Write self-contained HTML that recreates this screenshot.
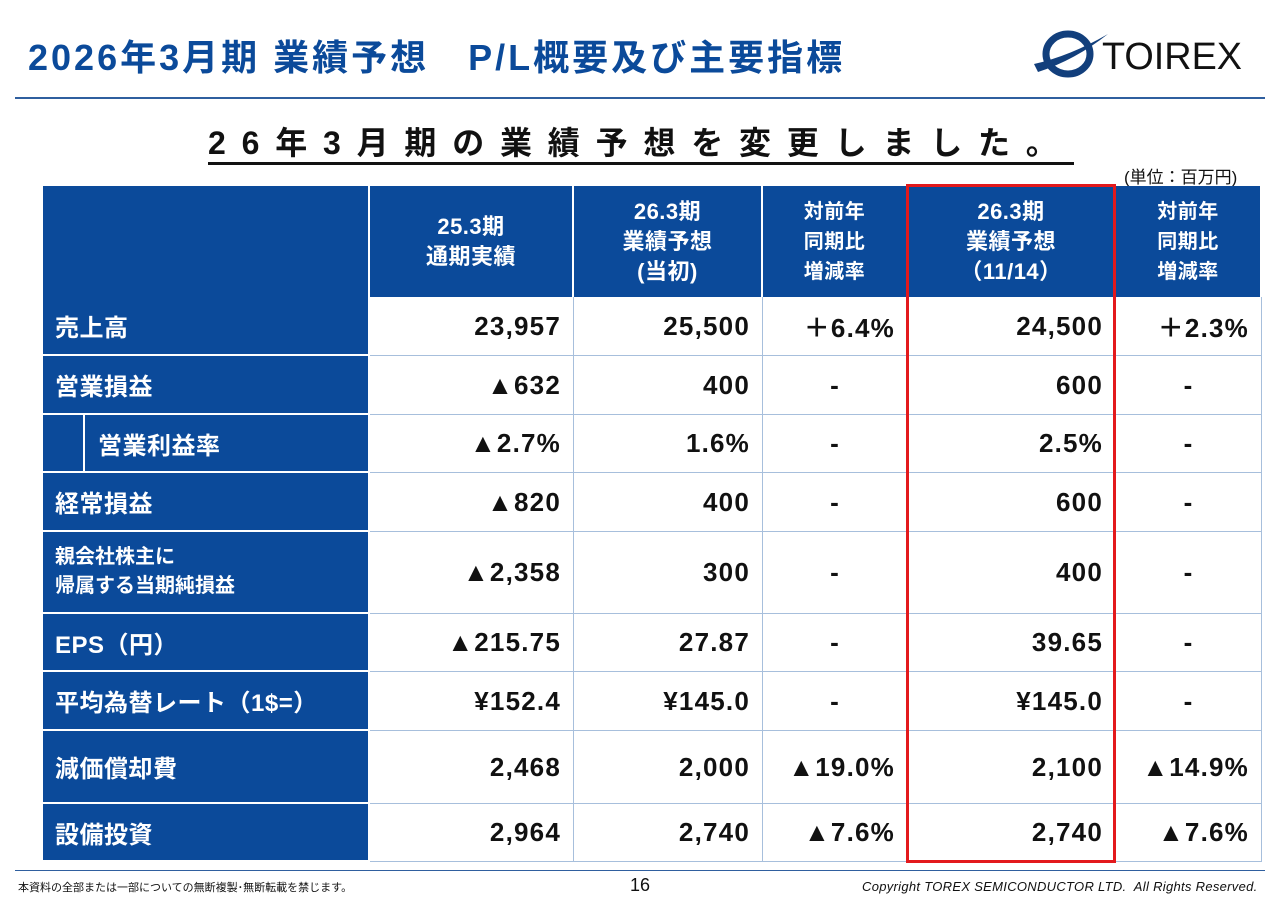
<!DOCTYPE html>
<html><head><meta charset="utf-8"><style>
body{margin:0;width:1280px;height:905px;background:#fff;position:relative;overflow:hidden;font-family:"Liberation Sans","Noto Sans CJK JP",sans-serif;}
.a{position:absolute;box-sizing:border-box;}
.c{display:flex;align-items:center;font-weight:bold;}
.h{background:#0b4a9a;color:#fff;justify-content:center;text-align:center;border-right:2px solid #fff;font-size:22px;line-height:30px;letter-spacing:0.5px;}
.l{background:#0b4a9a;color:#fff;padding-left:12px;font-size:24px;border-bottom:2px solid #fff;letter-spacing:0.5px;}
.d{background:#fff;color:#111;justify-content:flex-end;padding-right:12px;font-size:26px;letter-spacing:1.2px;border-right:1.5px solid #a7bfdc;border-bottom:1.5px solid #a7bfdc;}
</style></head><body>
<div class="a" style="left:28px;top:29px;font-size:36px;font-weight:bold;color:#0b4a9a;letter-spacing:3px;">2026年3月期 業績予想　P/L概要及び主要指標</div>
<div class="a" style="left:1030px;top:24px;width:220px;height:56px;">
<svg width="220" height="56"><ellipse cx="38" cy="30" rx="22" ry="20" fill="none" stroke="#123f7c" stroke-width="7"/><path d="M4 40 Q40 32 78 10 Q45 36 8 48Z" fill="#123f7c"/><text x="72" y="45" font-size="38" font-family="Liberation Sans" fill="#111" textLength="140" lengthAdjust="spacingAndGlyphs">TOIREX</text></svg></div>
<div class="a" style="left:15px;top:97px;width:1250px;height:2px;background:#2f5f9f;"></div>
<div class="a" style="left:208px;top:124px;font-size:32px;font-weight:bold;letter-spacing:15.8px;color:#111;border-bottom:3px solid #111;line-height:38px;">26年3月期の業績予想を変更しました。</div>
<div class="a" style="left:1124px;top:163px;font-size:17px;color:#111;">(単位：百万円)</div>
<div id="t"></div>
<div class="a" style="left:906px;top:184px;width:210px;height:679px;border:3px solid #e3191c;"></div>
<div class="a" style="left:15px;top:870px;width:1250px;height:1px;background:#2f5f9f;"></div>
<div class="a" style="left:18px;top:879px;font-size:11px;color:#111;">本資料の全部または一部についての無断複製･無断転載を禁じます。</div>
<div class="a" style="left:630px;top:875px;font-size:18px;color:#111;">16</div>
<div class="a" style="left:862px;top:879px;font-size:13px;font-style:italic;color:#111;letter-spacing:0.3px;">Copyright TOREX SEMICONDUCTOR LTD.&nbsp; All Rights Reserved.</div>
<script>
const colX=[43,370,574,763,908,1116,1262];
const rowY=[186,297,356,415,473,532,614,672,731,804,862];
const headers=["25.3期<br>通期実績","26.3期<br>業績予想<br>(当初)","対前年<br>同期比<br>増減率","26.3期<br>業績予想<br>（11/14）","対前年<br>同期比<br>増減率"];
const labels=["売上高","営業損益","営業利益率","経常損益","親会社株主に<br>帰属する当期純損益","EPS（円）","平均為替レート（1$=）","減価償却費","設備投資"];
const actual25=["23,957","▲632","▲2.7%","▲820","▲2,358","▲215.75","¥152.4","2,468","2,964"];
const initial26=["25,500","400","1.6%","400","300","27.87","¥145.0","2,000","2,740"];
const yoy1=["+6.4%","-","-","-","-","-","-","▲19.0%","▲7.6%"];
const revised26=["24,500","600","2.5%","600","400","39.65","¥145.0","2,100","2,740"];
const yoy2=["+2.3%","-","-","-","-","-","-","▲14.9%","▲7.6%"];
const t=document.getElementById('t');
function cell(cls,x,y,w,h,html){const d=document.createElement('div');d.className='a c '+cls;d.style.cssText=`left:${x}px;top:${y}px;width:${w}px;height:${h}px;`;d.innerHTML=html;t.appendChild(d);return d;}
let e=cell('h',colX[0],rowY[0],colX[1]-colX[0],rowY[1]-rowY[0],'');


headers.forEach((h,i)=>{const c=cell('h',colX[i+1],rowY[0],colX[i+2]-colX[i+1],rowY[1]-rowY[0],h);


if(i==2||i==4)c.style.fontSize='20px';});
const cols=[actual25,initial26,yoy1,revised26,yoy2];
labels.forEach((lb,r)=>{const y=rowY[r+1],h=rowY[r+2]-y;
const L=cell('l',colX[0],y,colX[1]-colX[0],h,lb);


L.style.borderRight='2px solid #fff';
if(r==2){L.style.paddingLeft='55px';const s=document.createElement('div');s.className='a';s.style.cssText='left:40px;top:-2px;width:2px;height:'+(h+2)+'px;background:#fff';L.appendChild(s);}
if(r==4){L.style.fontSize='20px';L.style.lineHeight='29px';L.style.letterSpacing='0';}
cols.forEach((arr,i)=>{const v=arr[r];const c=cell('d',colX[i+1],y,colX[i+2]-colX[i+1],h,v);


if(v=='-'){c.style.justifyContent='center';c.style.paddingRight='0';}
if(v[0]=='+')c.innerHTML='＋'+v.slice(1);});});
</script>
</body></html>
